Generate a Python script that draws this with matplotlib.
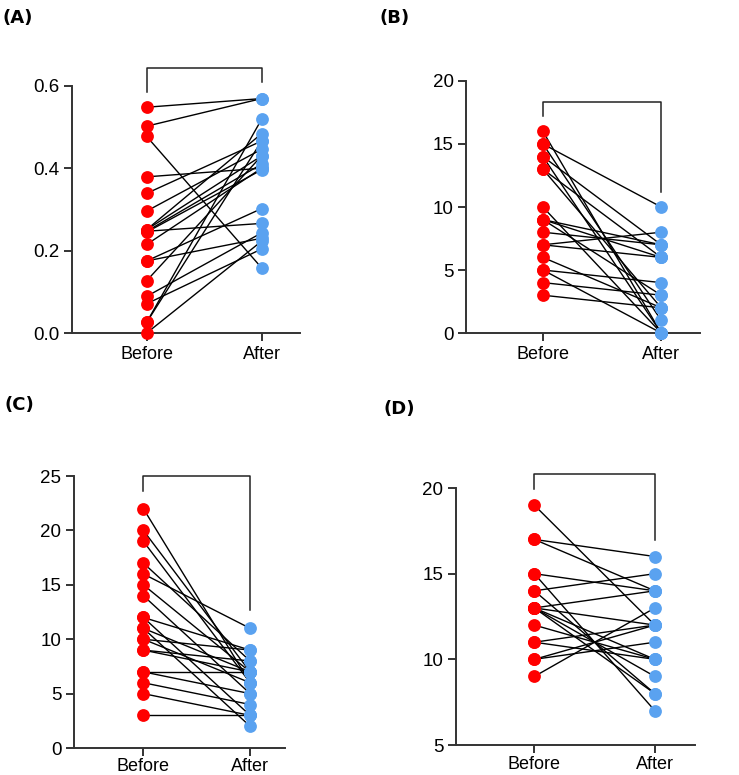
import matplotlib
matplotlib.use("Agg")
import matplotlib.pyplot as plt

# Paired values (Before -> After)
a_before = [0.548, 0.502, 0.477, 0.379, 0.339, 0.296, 0.251, 0.251, 0.247, 0.247,
            0.245, 0.215, 0.175, 0.175, 0.127, 0.089, 0.071, 0.026, 0.026, 0.0]
a_after = [0.569, 0.569, 0.158, 0.400, 0.466, 0.446, 0.484, 0.430, 0.410, 0.266,
           0.396, 0.400, 0.302, 0.230, 0.430, 0.243, 0.204, 0.519, 0.466, 0.223]

b_before = [16, 15, 15, 14, 14, 13, 13, 10, 9, 9, 9, 8, 7, 7, 6, 5, 5, 4, 3]
b_after = [0, 10, 1, 7, 0, 6, 2, 0, 7, 6, 3, 7, 8, 6, 2, 4, 0, 3, 2]

c_before = [22, 20, 19, 17, 16, 15, 14, 12, 12, 11, 10, 10, 9, 9, 7, 7, 6, 5, 3, 11]
c_after = [6, 7, 6, 8, 11, 7, 5, 9, 3, 7, 9, 6, 8, 7, 7, 5, 4, 3, 3, 2]

d_before = [19, 17, 17, 15, 15, 14, 14, 13, 13, 13, 13, 13, 12, 11, 11, 10, 10, 9]
d_after = [12, 16, 14, 14, 7, 15, 8, 14, 12, 10, 9, 8, 10, 12, 10, 12, 11, 13]

groups = ["Before", "After"]

red = "#ff0000"
blue = "#5aa2f0"

fig = plt.figure(figsize=(7.39, 7.75), dpi=100)

# panel: axes rect, data, ylim, yticks, tick format, bracket (top, left leg end, right leg end),
# label, label pos, x tick length/pad
panels = [
    ([0.0974, 0.5703, 0.308, 0.319], a_before, a_after, (0, 0.6), [0, 0.2, 0.4, 0.6], "{:.1f}",
     (0.644, 0.585, 0.61), "(A)", (0.004, 0.988), (6, 3)),
    ([0.6306, 0.5703, 0.317, 0.3252], b_before, b_after, (0, 20), [0, 5, 10, 15, 20], "{:d}",
     (18.3, 17.2, 11.2), "(B)", (0.514, 0.988), (6, 3)),
    ([0.1001, 0.0348, 0.286, 0.351], c_before, c_after, (0, 25), [0, 5, 10, 15, 20, 25], "{:d}",
     (25, 23.6, 12.7), "(C)", (0.006, 0.489), (6, 1)),
    ([0.617, 0.0387, 0.323, 0.3316], d_before, d_after, (5, 20), [5, 10, 15, 20], "{:d}",
     (20.8, 19.95, 16.96), "(D)", (0.519, 0.484), (6, 2)),
]

for rect, before, after, ylim, yticks, fmt, bracket, label, lpos, xtick in panels:
    ax = fig.add_axes(rect)
    # connecting lines
    for b, a in zip(before, after):
        ax.plot([0, 1], [b, a], color="black", lw=1.0, zorder=1)
    ax.scatter([0] * len(before), before, s=85, color=red, zorder=3, clip_on=False, linewidths=0)
    ax.scatter([1] * len(after), after, s=85, color=blue, zorder=3, clip_on=False, linewidths=0)

    # significance bracket
    top, left_end, right_end = bracket
    ax.plot([0, 0, 1, 1], [left_end, top, top, right_end], color="#222222", lw=1.1,
            clip_on=False, zorder=2)

    ax.set_xlim(-0.65, 1.33)
    ax.set_ylim(*ylim)
    ax.set_xticks([0, 1])
    ax.set_xticklabels(groups, fontsize=13, family="Liberation Sans")
    ax.set_yticks(yticks)
    ax.set_yticklabels([fmt.format(t) for t in yticks], fontsize=13.5, family="Liberation Sans")
    for side in ["top", "right"]:
        ax.spines[side].set_visible(False)
    for side in ["left", "bottom"]:
        ax.spines[side].set_linewidth(1.4)
        ax.spines[side].set_color("#333333")
    ax.tick_params(direction="out", length=6, width=1.4, color="#333333", pad=3)
    ax.tick_params(axis="x", length=xtick[0], pad=xtick[1])

    fig.text(lpos[0], lpos[1], label, fontsize=13, fontweight="bold", ha="left", va="top")

fig.savefig("out.png", dpi=100)
